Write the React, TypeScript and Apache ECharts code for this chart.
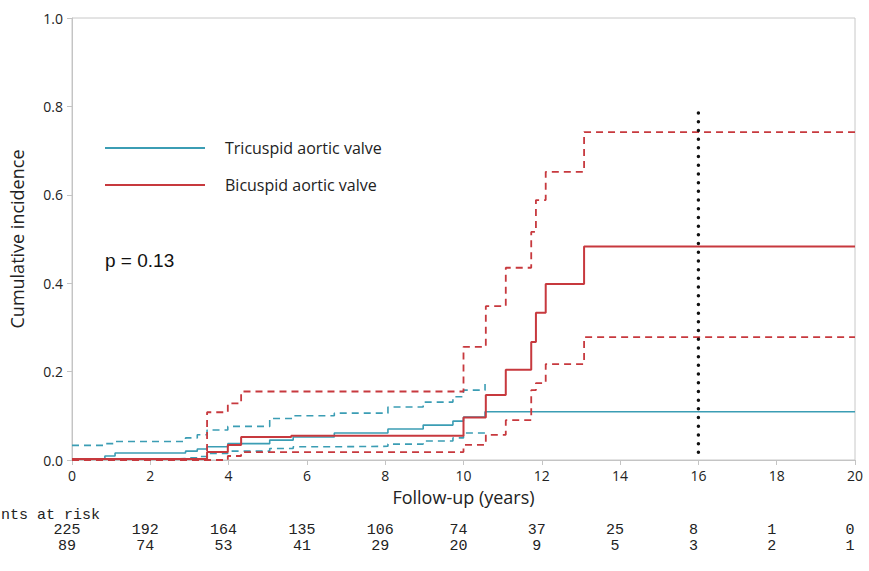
import React, { useEffect, useRef } from "react";
import * as echarts from "echarts";

// ---- Data ----
const xTicks = [0, 2, 4, 6, 8, 10, 12, 14, 16, 18, 20];
const tavAtRisk = [225, 192, 164, 135, 106, 74, 37, 25, 8, 1, 0];
const bavAtRisk = [89, 74, 53, 41, 29, 20, 9, 5, 3, 2, 1];

const tavTimes = [0, 0.84, 1.1, 2.9, 3.2, 3.45, 3.98, 5.05, 5.65, 6.7, 8.07, 8.97, 9.73, 10.0, 10.55, 20];
const tavEst = [0.002, 0.009, 0.016, 0.02, 0.025, 0.03, 0.037, 0.045, 0.052, 0.061, 0.07, 0.079, 0.088, 0.097, 0.109, 0.109];

const tavCiTimes = [0, 0.84, 1.1, 2.9, 3.2, 3.45, 3.98, 5.05, 5.65, 6.7, 8.07, 8.97, 9.73, 10.0, 10.55];
const tavUpper = [0.033, 0.037, 0.042, 0.05, 0.057, 0.068, 0.076, 0.094, 0.1, 0.106, 0.12, 0.131, 0.143, 0.158, 0.172];
const tavLower = [0.0, 0.002, 0.003, 0.005, 0.008, 0.015, 0.02, 0.026, 0.03, 0.031, 0.036, 0.043, 0.05, 0.061, 0.064];

const bavTimes = [0, 3.45, 3.98, 4.32, 5.6, 10.0, 10.57, 11.08, 11.73, 11.85, 12.1, 13.08, 20];
const bavEst = [0.002, 0.018, 0.034, 0.052, 0.055, 0.096, 0.147, 0.204, 0.267, 0.333, 0.398, 0.483, 0.483];

const bavUpperTimes = [0, 3.45, 3.98, 4.32, 10.0, 10.57, 11.08, 11.73, 11.85, 12.1, 13.08, 20];
const bavUpper = [0.0, 0.108, 0.128, 0.155, 0.256, 0.348, 0.435, 0.516, 0.588, 0.652, 0.742, 0.742];

const bavLowerTimes = [0, 3.98, 4.32, 10.0, 10.57, 11.08, 11.73, 11.85, 12.1, 13.08, 20];
const bavLower = [0.0, 0.009, 0.018, 0.034, 0.057, 0.09, 0.158, 0.174, 0.217, 0.278, 0.278];

const cutoffYear = [16, 16];
const cutoffLevel = [0.785, 0];

const seriesNames = ["Tricuspid aortic valve", "Bicuspid aortic valve"];
const pValueText = "p = 0.13";
const atRiskTitle = "nts at risk";

const TEAL = "#3b9db4";
const RED = "#c7393e";
const FONT = '"Open Sans", "Noto Sans", sans-serif';
const MONO = '"Liberation Mono", "DejaVu Sans Mono", monospace';

function pairs(t: number[], v: number[]) {
  return t.map((x, i) => [x, v[i]]);
}

export default function App() {
  const ref = useRef<HTMLDivElement>(null);

  useEffect(() => {
    document.body.style.margin = "0";
    const chart = echarts.init(ref.current!, null, { renderer: "svg" });

    const riskAxis = (vals: number[], offset: number) => ({
      type: "value",
      gridIndex: 0,
      position: "bottom",
      offset,
      min: 0,
      max: 20,
      interval: 2,
      axisLine: { show: false },
      axisTick: { show: false },
      splitLine: { show: false },
      axisLabel: {
        margin: 8,
        color: "#222",
        fontFamily: MONO,
        fontSize: 15,
        padding: [0, 10, 0, 0],
        formatter: (v: number) => {
          const i = xTicks.indexOf(Math.round(v));
          return i >= 0 ? String(vals[i]) : "";
        },
      },
    });

    const stepLine = (name: string, data: number[][], color: string, width: number, dashed: boolean) => ({
      type: "line",
      name,
      step: "end",
      symbol: "none",
      data,
      silent: true,
      lineStyle: { color, width, type: dashed ? [7, 5] : "solid" },
      itemStyle: { color },
    });

    chart.setOption({
      animation: false,
      grid: {
        left: 72,
        right: 14,
        top: 18,
        bottom: 111,
        show: true,
        borderColor: "#c8c8c8",
        borderWidth: 1,
      },
      legend: {
        data: [
          { name: seriesNames[0], icon: "rect", itemStyle: { color: TEAL } },
          { name: seriesNames[1], icon: "rect", itemStyle: { color: RED } },
        ],
        orient: "vertical",
        left: 100,
        top: 135,
        itemWidth: 100,
        itemHeight: 2,
        itemGap: 21,
        selectedMode: false,
        textStyle: { fontFamily: FONT, fontSize: 16, color: "#222", padding: [0, 0, 0, 15] },
      },
      xAxis: [
        {
          type: "value",
          min: 0,
          max: 20,
          interval: 2,
          name: "Follow-up (years)",
          nameLocation: "middle",
          nameGap: 28,
          nameTextStyle: { fontFamily: FONT, fontSize: 18, color: "#222" },
          axisLine: { lineStyle: { color: "#c4c4c4", width: 1 } },
          axisTick: { show: true, length: 5, lineStyle: { color: "#c4c4c4" } },
          splitLine: { show: false },
          axisLabel: { margin: 8, color: "#222", fontFamily: FONT, fontSize: 14 },
        },
        riskAxis(tavAtRisk, 55),
        riskAxis(bavAtRisk, 71),
      ],
      yAxis: {
        type: "value",
        min: 0,
        max: 1,
        interval: 0.2,
        name: "Cumulative incidence",
        nameLocation: "middle",
        nameGap: 46,
        nameTextStyle: { fontFamily: FONT, fontSize: 18, color: "#222" },
        axisLine: { show: true, lineStyle: { color: "#c4c4c4", width: 1 } },
        axisTick: { show: true, length: 5, lineStyle: { color: "#c4c4c4" } },
        splitLine: { show: false },
        axisLabel: {
          margin: 9,
          color: "#222",
          fontFamily: FONT,
          fontSize: 14,
          formatter: (v: number) => v.toFixed(1),
        },
      },
      graphic: [
        {
          type: "text",
          x: 105,
          y: 260,
          style: {
            text: pValueText,
            font: '19px "Liberation Sans", Arial, sans-serif',
            fill: "#111",
            verticalAlign: "middle",
          },
        },
        {
          type: "text",
          x: 1,
          y: 515,
          style: {
            text: atRiskTitle,
            font: "15px " + MONO,
            fill: "#222",
            verticalAlign: "middle",
          },
        },
      ],
      series: [
        stepLine("tav-upper", pairs(tavCiTimes, tavUpper), TEAL, 1.6, true),
        stepLine("tav-lower", pairs(tavCiTimes, tavLower), TEAL, 1.6, true),
        stepLine(seriesNames[0], pairs(tavTimes, tavEst), TEAL, 1.6, false),
        stepLine("bav-upper", pairs(bavUpperTimes, bavUpper), RED, 1.8, true),
        stepLine("bav-lower", pairs(bavLowerTimes, bavLower), RED, 1.8, true),
        stepLine(seriesNames[1], pairs(bavTimes, bavEst), RED, 2, false),
        {
          type: "line",
          name: "cutoff",
          symbol: "none",
          silent: true,
          data: pairs(cutoffYear, cutoffLevel),
          lineStyle: { color: "#111", width: 3.5, type: [0, 8.7], cap: "round" },
          z: 5,
        },
      ],
    });

    return () => chart.dispose();
  }, []);

  return <div ref={ref} style={{ width: 869, height: 571 }} />;
}
